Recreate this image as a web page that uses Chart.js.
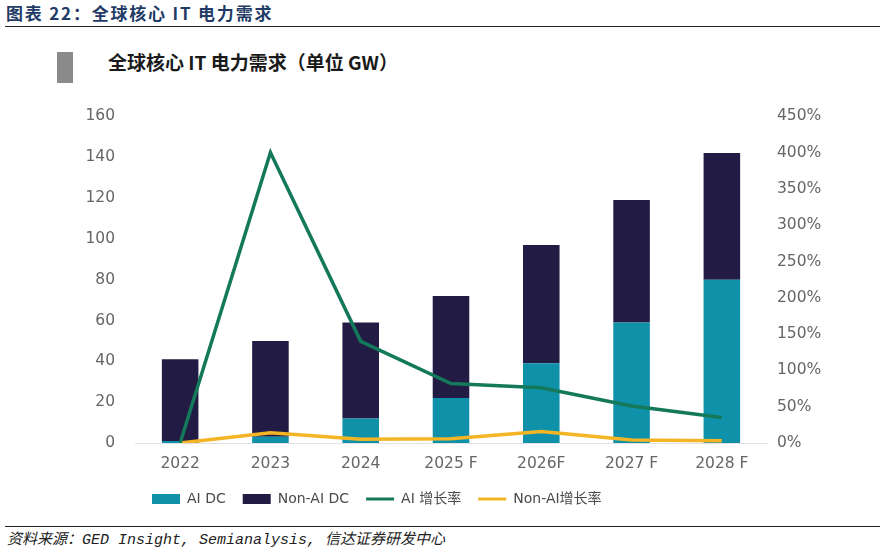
<!DOCTYPE html>
<html>
<head>
<meta charset="utf-8">
<script src="https://cdn.jsdelivr.net/npm/chart.js@4.4.1/dist/chart.umd.min.js"></script>
<style>
  html, body { margin:0; padding:0; background:#fff; }
  body { width:880px; height:551px; position:relative; overflow:hidden; }
  #cabecalho {
    position:absolute; left:6px; top:0px;
    font: bold 17px "Noto Sans CJK SC", sans-serif; letter-spacing:1.8px;
    color:#1f3b66;
  }
  #linha-topo { position:absolute; left:5px; right:0; top:26px; border-top:1.5px solid #222; }
  #marca { position:absolute; left:57px; top:52px; width:16px; height:31px; background:#8a8a8a; }
  #titulo {
    position:absolute; left:108px; top:48px;
    font: bold 19px "Noto Sans CJK SC", sans-serif; color:#1a1a1a;
  }
  #linha-fundo { position:absolute; left:5px; right:0; top:526px; border-top:1.5px solid #222; }
  #fonte {
    position:absolute; left:7px; top:527px;
    font: italic 15px "Liberation Mono", "Noto Sans CJK SC", monospace; color:#222;
  }
  .chart-wrap { position:absolute; left:0; top:87px; width:880px; height:433px; }
</style>
</head>
<body>
<div id="cabecalho">图表 22：全球核心 IT 电力需求</div>
<div id="linha-topo"></div>
<div id="marca"></div>
<div id="titulo">全球核心 IT 电力需求（单位 GW）</div>
<div class="chart-wrap"><canvas id="grafico-it"></canvas></div>
<div id="linha-fundo"></div>
<div id="fonte">资料来源：GED Insight, Semianalysis, 信达证券研发中心</div>
<script>
// ----------------------------------------- Dados ----------------------------------------- //
const anos = ['2022', '2023', '2024', '2025 F', '2026F', '2027 F', '2028 F'];
const aiDC = [1, 3, 12, 22, 39, 59, 80];
const nonAiDC = [40, 47, 47, 50, 58, 60, 62];
const aiCresc = [0, 400, 140, 82, 76, 51, 35];
const nonAiCresc = [0, 14, 5, 6, 16, 4, 3];

const ticksEsq = [0, 20, 40, 60, 80, 100, 120, 140, 160];
const ticksDir = [0, 50, 100, 150, 200, 250, 300, 350, 400, 450];

// ----------------------------------------- Defaults ----------------------------------------- //
Chart.defaults.font.family = "'DejaVu Sans','Noto Sans CJK SC',sans-serif";
Chart.defaults.font.size = 15.5;
Chart.defaults.color = '#666';

const COR_AI = '#0f91a9';
const COR_NONAI = '#221c45';
const COR_AI_LINHA = '#14795a';
const COR_NONAI_LINHA = '#f3b425';
const coresLegenda = [COR_AI, COR_NONAI, COR_AI_LINHA, COR_NONAI_LINHA];

new Chart(document.getElementById('grafico-it'), {
  type: 'bar',
  data: {
    labels: anos,
    datasets: [
      { label: 'AI DC', data: aiDC, backgroundColor: COR_AI, yAxisID: 'y', order: 2,
        barPercentage: 0.405, categoryPercentage: 1 },
      { label: 'Non-AI DC', data: nonAiDC, backgroundColor: COR_NONAI, yAxisID: 'y', order: 2,
        barPercentage: 0.405, categoryPercentage: 1 },
      { type: 'line', label: 'AI 增长率', data: aiCresc, borderColor: COR_AI_LINHA,
        backgroundColor: COR_AI_LINHA, borderWidth: 3.5, pointRadius: 0, tension: 0,
        yAxisID: 'y1', order: 0 },
      { type: 'line', label: 'Non-AI增长率', data: nonAiCresc, borderColor: COR_NONAI_LINHA,
        backgroundColor: COR_NONAI_LINHA, borderWidth: 3.5, pointRadius: 0, tension: 0,
        yAxisID: 'y1', order: 0 }
    ]
  },
  options: {
    responsive: true,
    maintainAspectRatio: false,
    animation: false,
    layout: { padding: { top: 10, right: 0, left: 0, bottom: 4 } },
    plugins: {
      tooltip: { enabled: false },
      legend: {
        position: 'bottom',
        fullSize: false,
        align: 'start',
        labels: {
          usePointStyle: true,
          pointStyleWidth: 28,
          boxHeight: 10,
          padding: 17,
          font: { size: 14 },
          color: '#4a4a4a',
          sort: (a, b) => a.datasetIndex - b.datasetIndex,
          generateLabels: chart =>
            Chart.defaults.plugins.legend.labels.generateLabels(chart).map(l => ({
              ...l,
              pointStyle: l.datasetIndex < 2 ? 'rect' : 'line',
              lineWidth: l.datasetIndex < 2 ? 0 : 3,
              fillStyle: coresLegenda[l.datasetIndex],
              strokeStyle: coresLegenda[l.datasetIndex]
            }))
        }
      }
    },
    scales: {
      x: {
        stacked: true,
        grid: { display: false, drawTicks: false },
        border: { display: true, color: '#e2e2e2' },
        ticks: { padding: 12 },
        afterFit: s => { s.height = 32; }
      },
      y: {
        stacked: true,
        min: 0, max: 160,
        afterBuildTicks: s => { s.ticks = ticksEsq.map(v => ({ value: v })); },
        grid: { display: false, drawTicks: false },
        border: { display: false },
        ticks: { padding: 20 },
        afterFit: s => { s.width = 135; }
      },
      y1: {
        position: 'right',
        min: 0, max: 450,
        afterBuildTicks: s => { s.ticks = ticksDir.map(v => ({ value: v })); },
        grid: { display: false, drawTicks: false },
        border: { display: false },
        ticks: { padding: 10, callback: v => v + '%' },
        afterFit: s => { s.width = 113; }
      }
    }
  }
});
</script>
</body>
</html>
